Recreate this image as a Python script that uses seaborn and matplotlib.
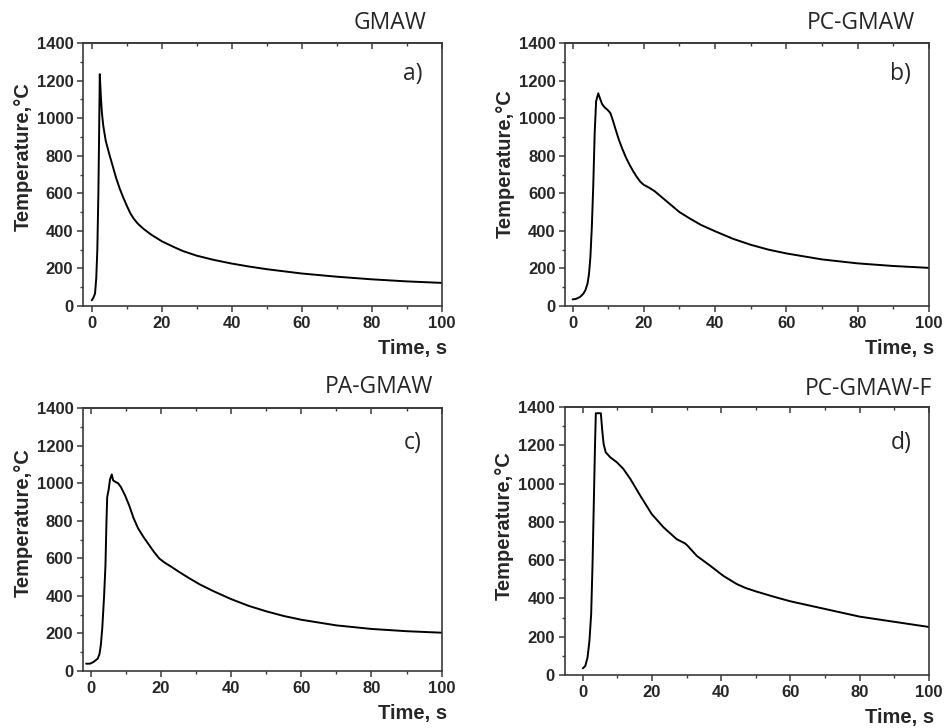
import numpy as np
import pandas as pd
import seaborn as sns
import matplotlib.pyplot as plt
from matplotlib.ticker import MultipleLocator

# ---- data ----
t_a = [0, 0.5, 0.95, 1.3, 1.6, 1.9, 2.1, 2.3, 2.6, 2.9, 3.3, 4.0, 5, 6, 7, 8, 9, 10, 11, 12, 13, 14, 15, 17, 20, 23, 26, 30, 35, 40, 45, 50, 60, 70, 80, 90, 100]
T_a = [30, 45, 67, 150, 300, 600, 900, 1235, 1120, 1030, 960, 880, 810, 745, 680, 625, 578, 535, 495, 465, 442, 424, 408, 380, 345, 318, 293, 268, 245, 226, 210, 196, 173, 156, 142, 131, 123]

t_b = [0, 1, 2.1, 3, 3.6, 4.2, 4.6, 5.0, 5.4, 5.8, 6.2, 6.6, 7.2, 7.7, 8.3, 9.0, 9.8, 10.6, 11.2, 12, 13, 14, 15, 16, 17, 18, 19, 20, 21.5, 23, 25, 27, 30, 33, 36, 40, 45, 50, 55, 60, 70, 80, 90, 100]
T_b = [35, 38, 48, 65, 84, 120, 170, 260, 420, 640, 920, 1090, 1133, 1105, 1075, 1058, 1045, 1028, 995, 945, 885, 835, 790, 752, 718, 688, 662, 645, 630, 612, 580, 548, 500, 465, 432, 398, 358, 326, 300, 280, 248, 227, 213, 203]

t_c = [-1.3, -0.2, 0.8, 2.0, 2.5, 2.9, 3.3, 3.8, 4.2, 4.5, 4.7, 5.1, 5.5, 6.0, 6.4, 7.0, 7.8, 8.6, 9.8, 11, 12.2, 13.5, 15, 16.5, 18, 19.5, 21, 23, 25, 28, 31, 35, 40, 45, 50, 55, 60, 70, 80, 90, 100]
T_c = [39, 39, 48, 66, 90, 140, 230, 394, 560, 800, 926, 965, 1020, 1047, 1015, 1008, 1000, 980, 935, 880, 815, 760, 715, 675, 635, 600, 578, 555, 530, 495, 462, 425, 383, 347, 318, 293, 273, 243, 224, 212, 204]

t_d = [0, 0.7, 1.35, 1.9, 2.4, 2.8, 3.2, 3.5, 3.75, 5.2, 5.6, 6.0, 6.6, 7.9, 9.8, 11.7, 13.7, 16.6, 19.9, 23.3, 27.1, 29.5, 30.3, 32.9, 36.8, 40.6, 44.5, 47, 50, 55, 60, 65, 70, 80, 90, 100]
T_d = [35, 47, 91, 178, 318, 580, 929, 1190, 1368, 1368, 1278, 1208, 1164, 1138, 1112, 1077, 1025, 937, 841, 772, 710, 688, 675, 623, 571, 518, 475, 455, 437, 410, 385, 365, 345, 305, 278, 251]

titles = ["GMAW", "PC-GMAW", "PA-GMAW", "PC-GMAW-F"]
panel_tags = ["a)", "b)", "c)", "d)"]
xlims = [(-2.5, 100), (-2, 100), (-2.2, 100), (-5.3, 100)]
x_ticks = [0, 20, 40, 60, 80, 100]
y_ticks = [0, 200, 400, 600, 800, 1000, 1200, 1400]

series = [(t_a, T_a), (t_b, T_b), (t_c, T_c), (t_d, T_d)]

sns.set_style("ticks")
plt.rcParams['font.family'] = ['Liberation Sans', 'DejaVu Sans']

fig = plt.figure(figsize=(9.44, 7.28), dpi=100)
rects = [
    (0.0879, 0.5797, 0.380, 0.361),
    (0.599, 0.5797, 0.385, 0.361),
    (0.0879, 0.0783, 0.380, 0.361),
    (0.598, 0.0728, 0.386, 0.368),
]
title_pos = [(0.413, 0.968), (0.912, 0.968), (0.4015, 0.468), (0.9195, 0.4657)]
tag_pos = [(0.919, 0.882), (0.923, 0.882), (0.919, 0.867), (0.923, 0.866)]
ylab_y = [0.567, 0.54, 0.563, 0.556]

spine_col = "#3a3a3a"
for i, (rect, (t, T)) in enumerate(zip(rects, series)):
    ax = fig.add_axes(rect)
    df = pd.DataFrame({"Time": t, "Temp": T})
    sns.lineplot(data=df, x="Time", y="Temp", ax=ax, color="black", lw=1.4,
                 sort=False, estimator=None)
    ax.set_xlim(*xlims[i])
    ax.set_ylim(0, 1400)
    ax.set_xticks(x_ticks)
    ax.set_yticks(y_ticks)
    ax.xaxis.set_minor_locator(MultipleLocator(10))
    ax.yaxis.set_minor_locator(MultipleLocator(100))
    for s in ax.spines.values():
        s.set_visible(True)
        s.set_color(spine_col)
        s.set_linewidth(1.2)
    ax.tick_params(axis='both', which='major', direction='out', length=4,
                   width=1.1, color=spine_col, labelsize=12, pad=3)
    ax.tick_params(axis='both', which='minor', direction='out', length=2.5,
                   width=1.0, color=spine_col)
    ax.tick_params(top=False, right=False, which='both')
    for lab in ax.get_xticklabels() + ax.get_yticklabels():
        lab.set_fontweight('bold')
    # top inward ticks
    sec = ax.secondary_xaxis('top')
    sec.set_xticks(x_ticks)
    sec.xaxis.set_minor_locator(MultipleLocator(10))
    sec.tick_params(which='major', direction='in', length=4, width=1.1,
                    color=spine_col, labeltop=False)
    sec.tick_params(which='minor', direction='in', length=2.5, width=1.0,
                    color=spine_col)
    sec.spines['top'].set_color(spine_col)
    sec.spines['top'].set_linewidth(1.2)

    ax.set_xlabel("Time, s", fontsize=14.5, fontweight='bold', loc='right')
    ax.xaxis.set_label_coords(1.015, -0.125)
    ax.set_ylabel("Temperature,°C", fontsize=14.5, fontweight='bold')
    ax.yaxis.set_label_coords(-0.14, ylab_y[i])

    ax.text(*tag_pos[i], panel_tags[i], transform=ax.transAxes, ha='center',
            va='center', fontsize=16.5, family='Open Sans')
    fig.text(*title_pos[i], titles[i], ha='center', va='center',
             fontsize=16.5, family='Open Sans')

fig.savefig("out.png", dpi=100)
